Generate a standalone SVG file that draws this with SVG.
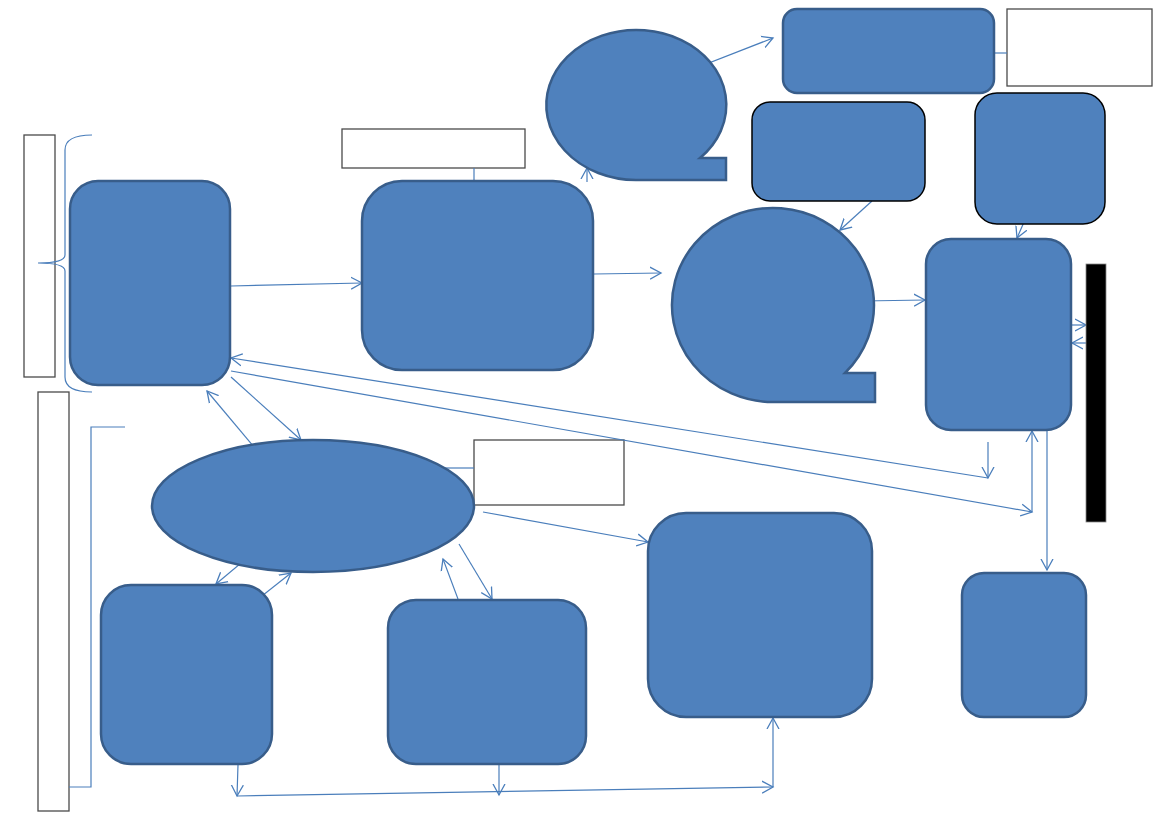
<svg xmlns="http://www.w3.org/2000/svg" width="1169" height="827" viewBox="0 0 1169 827">
<style>
.sh{fill:#4F81BD;stroke:#385D8A;stroke-width:2.5}
.shb{fill:#4F81BD;stroke:#000;stroke-width:1.5}
.tb{fill:#fff;stroke:#4a4a4a;stroke-width:1.3}
.cn{fill:none;stroke:#4A7EBB;stroke-width:1.2}
.ar{marker-end:url(#arr)}
</style>
<defs>
<marker id="arr" markerUnits="userSpaceOnUse" markerWidth="14" markerHeight="14" refX="11" refY="6" orient="auto" viewBox="0 0 14 12">
<path d="M0,0 L11,6 L0,12" fill="none" stroke="#4A7EBB" stroke-width="1.3"/>
</marker>
</defs>
<rect width="1169" height="827" fill="#fff"/>

<g id="textbox-left-top"><rect class="tb" x="24" y="135" width="31" height="242"/></g>
<g id="textbox-left-bottom"><rect class="tb" x="38" y="392" width="31" height="419"/></g>
<g id="textbox-top-center"><rect class="tb" x="342" y="129" width="183" height="39"/></g>
<g id="textbox-top-right"><rect class="tb" x="1007" y="9" width="145" height="77"/></g>
<g id="textbox-mid"><rect class="tb" x="474" y="440" width="150" height="65"/></g>

<g id="brace"><path class="cn" d="M92 135 Q65 135 65 150 L65 255 Q65 263 38 263 Q65 263 65 271 L65 377 Q65 392 92 392"/></g>
<g id="bracket"><path class="cn" d="M125 427 L91 427 L91 787 L69 787"/></g>

<g id="connectors">
<line class="cn" x1="474" y1="168" x2="474" y2="181"/>
<line class="cn" x1="994" y1="53" x2="1007" y2="53"/>
<line class="cn" x1="445" y1="468" x2="474" y2="468"/>
<line class="cn ar" x1="231" y1="286" x2="362" y2="283"/>
<line class="cn ar" x1="594" y1="274" x2="661" y2="273"/>
<line class="cn ar" x1="673" y1="77" x2="773" y2="38"/>
<line class="cn ar" x1="587" y1="182" x2="587" y2="168"/>
<line class="cn ar" x1="872" y1="201" x2="840" y2="230"/>
<line class="cn ar" x1="1032" y1="204" x2="1017" y2="238"/>
<line class="cn ar" x1="863" y1="301" x2="925" y2="300"/>
<line class="cn ar" x1="1072" y1="325" x2="1086" y2="325"/>
<line class="cn ar" x1="1086" y1="343" x2="1072" y2="343"/>
<line class="cn ar" x1="988" y1="442" x2="988" y2="478"/>
<line class="cn ar" x1="988" y1="478" x2="231" y2="358"/>
<line class="cn ar" x1="231" y1="371" x2="1032" y2="512"/>
<line class="cn ar" x1="1032" y1="512" x2="1032" y2="431"/>
<line class="cn ar" x1="1047" y1="430" x2="1047" y2="570"/>
<line class="cn ar" x1="231" y1="377" x2="301" y2="440"/>
<line class="cn ar" x1="270" y1="466" x2="207" y2="391"/>
<line class="cn ar" x1="272" y1="537" x2="216" y2="584"/>
<line class="cn ar" x1="229" y1="622" x2="291" y2="573"/>
<line class="cn ar" x1="483" y1="512" x2="648" y2="542"/>
<line class="cn ar" x1="459" y1="544" x2="492" y2="599"/>
<line class="cn ar" x1="458" y1="599" x2="443" y2="559"/>
<line class="cn ar" x1="238" y1="765" x2="237" y2="796"/>
<line class="cn ar" x1="237" y1="796" x2="773" y2="787"/>
<line class="cn ar" x1="499" y1="764" x2="499" y2="795"/>
<line class="cn ar" x1="773" y1="787" x2="773" y2="718"/>
</g>

<g id="node-a"><rect class="sh" x="70" y="181" width="160" height="204" rx="28"/></g>
<g id="node-b"><rect class="sh" x="362" y="181" width="231" height="189" rx="40"/></g>
<g id="node-c"><path class="sh" d="M636 180 A90 75 0 1 1 700 158 L726 158 L726 180 Z"/></g>
<g id="node-d"><path class="sh" d="M774 402 A101 97 0 1 1 845 373 L875 373 L875 402 Z"/></g>
<g id="node-e"><rect class="sh" x="783" y="9" width="211" height="84" rx="14"/></g>
<g id="node-g"><rect class="shb" x="752" y="102" width="173" height="99" rx="18"/></g>
<g id="node-h"><rect class="shb" x="975" y="93" width="130" height="131" rx="22"/></g>
<g id="node-i"><rect class="sh" x="926" y="239" width="145" height="191" rx="25"/></g>
<g id="bar"><rect x="1086" y="264" width="20" height="258" fill="#000" stroke="#888" stroke-width="0.8"/></g>
<g id="node-j"><ellipse class="sh" cx="313" cy="506" rx="161" ry="66"/></g>
<g id="node-l"><rect class="sh" x="101" y="585" width="171" height="179" rx="30"/></g>
<g id="node-m"><rect class="sh" x="388" y="600" width="198" height="164" rx="28"/></g>
<g id="node-n"><rect class="sh" x="648" y="513" width="224" height="204" rx="38"/></g>
<g id="node-o"><rect class="sh" x="962" y="573" width="124" height="144" rx="22"/></g>
</svg>
